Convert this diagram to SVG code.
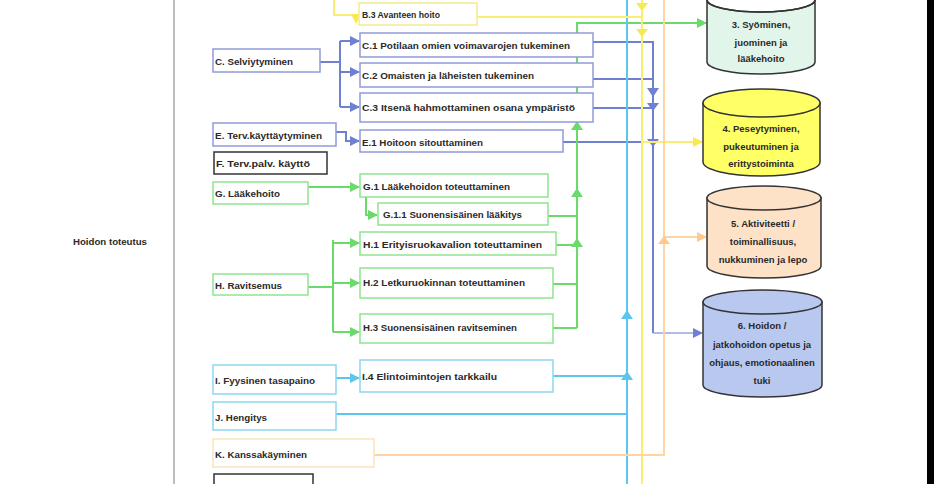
<svg xmlns="http://www.w3.org/2000/svg" width="934" height="484" viewBox="0 0 934 484">
<defs>
<style>
.t{font-family:"Liberation Sans",Arial,sans-serif;font-size:9px;font-weight:bold;fill:#2a2a2a}
.ct{font-family:"Liberation Sans",Arial,sans-serif;font-size:9.5px;font-weight:bold;fill:#2a2a2a;text-anchor:middle}
.bx{fill:#fff;stroke-width:1.5}
.bl{stroke:#8f9ad8}
.gr{stroke:#8fe58f}
.cy{stroke:#8ad8f0}
.ye{stroke:#f3ea90}
.or{stroke:#fde3b8}
.bk{stroke:#333}
.cB{fill:none;stroke:#6f80d2;stroke-width:2}
.cG{fill:none;stroke:#6ada6a;stroke-width:2}
.cC{fill:none;stroke:#5cc6ec;stroke-width:2}
.cY{fill:none;stroke:#f8ee70;stroke-width:2}
.cO{fill:none;stroke:#ffd3a2;stroke-width:2}
.cyl{stroke:#333;stroke-width:1.5}
</style>
<marker id="aB" markerUnits="userSpaceOnUse" markerWidth="10" markerHeight="10" refX="9" refY="5" orient="auto"><path d="M0,0L10,5L0,10z" fill="#6f80d2"/></marker>
<marker id="aG" markerUnits="userSpaceOnUse" markerWidth="10" markerHeight="10" refX="9" refY="5" orient="auto"><path d="M0,0L10,5L0,10z" fill="#6ada6a"/></marker>
<marker id="aC" markerUnits="userSpaceOnUse" markerWidth="10" markerHeight="10" refX="9" refY="5" orient="auto"><path d="M0,0L10,5L0,10z" fill="#5cc6ec"/></marker>
<marker id="aY" markerUnits="userSpaceOnUse" markerWidth="10" markerHeight="10" refX="9" refY="5" orient="auto"><path d="M0,0L10,5L0,10z" fill="#f6ea4e"/></marker>
<marker id="aO" markerUnits="userSpaceOnUse" markerWidth="10" markerHeight="10" refX="9" refY="5" orient="auto"><path d="M0,0L10,5L0,10z" fill="#ffc98e"/></marker>
</defs>
<rect width="934" height="484" fill="#fff"/>
<line x1="174" y1="0" x2="174" y2="484" stroke="#a8a8a8" stroke-width="1.5"/>
<rect x="927" y="0" width="7" height="484" fill="#000"/>
<text class="t" x="73" y="245" textLength="74" lengthAdjust="spacingAndGlyphs">Hoidon toteutus</text>

<g id="connectors">
<path class="cB" d="M320,62H340M340,41V107"/>
<path class="cB" d="M340,41H359" marker-end="url(#aB)"/>
<path class="cB" d="M340,72H359" marker-end="url(#aB)"/>
<path class="cB" d="M340,107H359" marker-end="url(#aB)"/>
<path class="cB" d="M336,132H346V141H359" marker-end="url(#aB)"/>
<path class="cB" d="M593,42H653V333"/>
<path fill="none" stroke="#9aa6e0" stroke-width="1.5" d="M653,333H702" marker-end="url(#aB)"/>
<path class="cB" d="M593,79H653M593,108H653M563,142H653"/>
<path fill="#6f80d2" d="M647,88H659L653,97zM647,103H659L653,111zM647,139H659L653,147z"/>
<path class="cG" d="M308,187H359" marker-end="url(#aG)"/>
<path class="cG" d="M366,197V215H377" marker-end="url(#aG)"/>
<path class="cG" d="M308,287H333M333,240V332"/>
<path class="cG" d="M333,243H359" marker-end="url(#aG)"/>
<path class="cG" d="M333,283H359" marker-end="url(#aG)"/>
<path class="cG" d="M333,332H359" marker-end="url(#aG)"/>
<path class="cG" d="M548,216H577M556,245H577M553,284H577M553,328H577"/>
<path class="cG" d="M577,328V23H706" marker-end="url(#aG)"/>
<path fill="#6ada6a" d="M571,130H583L577,121zM571,197H583L577,188zM571,247H583L577,238z"/>
<path class="cC" d="M627,0V484"/>
<path class="cC" d="M336,378H359" marker-end="url(#aC)"/>
<path class="cC" d="M553,376H627M336,414H627"/>
<path fill="#5cc6ec" d="M621,319H633L627,310zM621,380H633L627,371z"/>
<path class="cY" d="M642,0V484"/>
<path class="cY" d="M334,0V15H356V23" marker-end="url(#aY)"/>
<path class="cY" d="M477,17H642"/>
<path class="cY" d="M642,142H702" marker-end="url(#aY)"/>
<path fill="#f6ea4e" d="M636,3H648L642,11zM636,29H648L642,37z"/>
<path class="cO" d="M374,455H664V0"/>
<path class="cO" d="M664,237H706" marker-end="url(#aO)"/>
<path fill="#ffc98e" d="M658,244L664,236L670,244z"/>
</g>

<g id="C"><rect class="bx bl" x="213" y="49" width="107" height="23"/><text class="t" x="215" y="65" textLength="78" lengthAdjust="spacingAndGlyphs">C. Selviytyminen</text></g>
<g id="E"><rect class="bx bl" x="213" y="123" width="123" height="23"/><text class="t" x="215" y="139" textLength="107" lengthAdjust="spacingAndGlyphs">E. Terv.käyttäytyminen</text></g>
<g id="F"><rect class="bx bk" x="214" y="152" width="113" height="22"/><text class="t" x="216" y="167" textLength="94" lengthAdjust="spacingAndGlyphs">F. Terv.palv. käyttö</text></g>
<g id="G"><rect class="bx gr" x="213" y="182" width="95" height="22"/><text class="t" x="215" y="197" textLength="65" lengthAdjust="spacingAndGlyphs">G. Lääkehoito</text></g>
<g id="H"><rect class="bx gr" x="213" y="274" width="95" height="21"/><text class="t" x="215" y="289" textLength="67" lengthAdjust="spacingAndGlyphs">H. Ravitsemus</text></g>
<g id="I"><rect class="bx cy" x="213" y="365" width="123" height="29"/><text class="t" x="215" y="384" textLength="100" lengthAdjust="spacingAndGlyphs">I. Fyysinen tasapaino</text></g>
<g id="J"><rect class="bx cy" x="213" y="402" width="123" height="28"/><text class="t" x="215" y="421" textLength="52" lengthAdjust="spacingAndGlyphs">J. Hengitys</text></g>
<g id="K"><rect class="bx or" x="213" y="439" width="161" height="28"/><text class="t" x="215" y="458" textLength="92" lengthAdjust="spacingAndGlyphs">K. Kanssakäyminen</text></g>
<g id="L"><rect class="bx bk" x="214" y="474" width="99" height="20"/></g>

<g id="B3"><rect class="bx ye" x="359" y="3" width="118" height="22"/><text class="t" x="362" y="18" textLength="78" lengthAdjust="spacingAndGlyphs">B.3 Avanteen hoito</text></g>
<g id="C1"><rect class="bx bl" x="360" y="33" width="233" height="24"/><text class="t" x="362" y="49" textLength="208" lengthAdjust="spacingAndGlyphs">C.1 Potilaan omien voimavarojen tukeminen</text></g>
<g id="C2"><rect class="bx bl" x="360" y="63" width="233" height="24"/><text class="t" x="362" y="79" textLength="172" lengthAdjust="spacingAndGlyphs">C.2 Omaisten ja läheisten tukeminen</text></g>
<g id="C3"><rect class="bx bl" x="360" y="93" width="233" height="29"/><text class="t" x="362" y="111" textLength="213" lengthAdjust="spacingAndGlyphs">C.3 Itsenä hahmottaminen osana ympäristö</text></g>
<g id="E1"><rect class="bx bl" x="360" y="130" width="203" height="22"/><text class="t" x="362" y="146" textLength="121" lengthAdjust="spacingAndGlyphs">E.1 Hoitoon sitouttaminen</text></g>
<g id="G1"><rect class="bx gr" x="360" y="174" width="188" height="23"/><text class="t" x="363" y="190" textLength="147" lengthAdjust="spacingAndGlyphs">G.1 Lääkehoidon toteuttaminen</text></g>
<g id="G11"><rect class="bx gr" x="378" y="203" width="170" height="22"/><text class="t" x="383" y="218" textLength="139" lengthAdjust="spacingAndGlyphs">G.1.1 Suonensisäinen lääkitys</text></g>
<g id="H1"><rect class="bx gr" x="360" y="232" width="196" height="23"/><text class="t" x="363" y="248" textLength="179" lengthAdjust="spacingAndGlyphs">H.1 Erityisruokavalion toteuttaminen</text></g>
<g id="H2"><rect class="bx gr" x="360" y="268" width="193" height="30"/><text class="t" x="363" y="286" textLength="162" lengthAdjust="spacingAndGlyphs">H.2 Letkuruokinnan toteuttaminen</text></g>
<g id="H3"><rect class="bx gr" x="360" y="314" width="193" height="29"/><text class="t" x="363" y="331" textLength="154" lengthAdjust="spacingAndGlyphs">H.3 Suonensisäinen ravitseminen</text></g>
<g id="I4"><rect class="bx cy" x="360" y="360" width="193" height="32"/><text class="t" x="362" y="380" textLength="135" lengthAdjust="spacingAndGlyphs">I.4 Elintoimintojen tarkkailu</text></g>

<g id="N3">
<path class="cyl" fill="#e2f5ea" d="M707,0V62A54,12 0 0 0 815,62V0A54,12 0 0 1 707,0Z"/>
<path class="cyl" fill="none" d="M707,0A54,12 0 0 0 815,0"/>
<text class="ct" x="761" y="28">3. Syöminen,</text>
<text class="ct" x="761" y="46">juominen ja</text>
<text class="ct" x="761" y="62">lääkehoito</text>
</g>
<g id="N4">
<path class="cyl" fill="#ffff66" d="M703,103V162A58.5,14 0 0 0 820,162V103Z"/>
<ellipse class="cyl" fill="#ffff66" cx="761.5" cy="103" rx="58.5" ry="14"/>
<text class="ct" x="761" y="132">4. Peseytyminen,</text>
<text class="ct" x="761" y="150">pukeutuminen ja</text>
<text class="ct" x="761" y="167">erittystoiminta</text>
</g>
<g id="N5">
<path class="cyl" fill="#fde2c8" d="M707,198V266A57,12 0 0 0 821,266V198Z"/>
<ellipse class="cyl" fill="#fde2c8" cx="764" cy="198" rx="57" ry="12"/>
<text class="ct" x="763" y="227">5. Aktiviteetti /</text>
<text class="ct" x="763" y="245">toiminallisuus,</text>
<text class="ct" x="763" y="263">nukkuminen ja lepo</text>
</g>
<g id="N6">
<path class="cyl" fill="#b9c8ee" d="M703,302V385A59.5,12 0 0 0 822,385V302Z"/>
<ellipse class="cyl" fill="#b9c8ee" cx="762.5" cy="302" rx="59.5" ry="12"/>
<text class="ct" x="762" y="329">6. Hoidon /</text>
<text class="ct" x="762" y="348">jatkohoidon opetus ja</text>
<text class="ct" x="762" y="366">ohjaus, emotionaalinen</text>
<text class="ct" x="762" y="384">tuki</text>
</g>
</svg>
